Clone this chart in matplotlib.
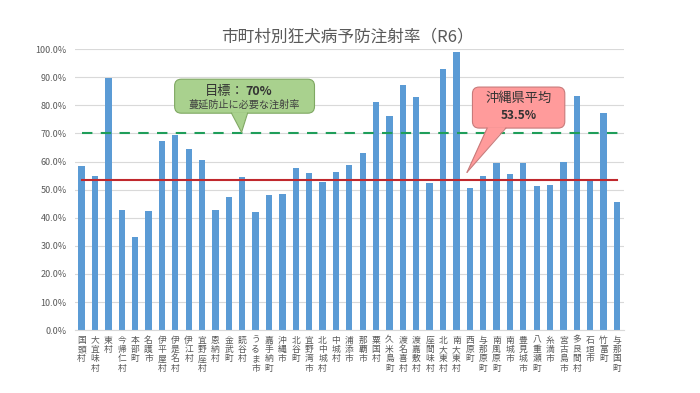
import numpy as np
import matplotlib
matplotlib.use("Agg")
import matplotlib.pyplot as plt
from matplotlib.patches import FancyBboxPatch, Polygon
from matplotlib.ticker import PercentFormatter, MultipleLocator

plt.rcParams['font.family'] = ['Noto Sans CJK JP', 'DejaVu Sans']

# 市町村名と注射率(%)
towns = ["国頭村", "大宜味村", "東村", "今帰仁村", "本部町", "名護市", "伊平屋村", "伊是名村",
         "伊江村", "宜野座村", "恩納村", "金武町", "読谷村", "うるま市", "嘉手納町", "沖縄市",
         "北谷町", "宜野湾市", "北中城村", "中城村", "浦添市", "那覇市", "粟国村", "久米島町",
         "渡名喜村", "渡嘉敷村", "座間味村", "北大東村", "南大東村", "西原町", "与那原町",
         "南風原町", "南城市", "豊見城市", "八重瀬町", "糸満市", "宮古島市", "多良間村",
         "石垣市", "竹富町", "与那国町"]
rates = [58.4, 55.0, 89.9, 42.8, 33.1, 42.4, 67.2, 69.5,
         64.5, 60.7, 42.8, 47.3, 54.5, 41.9, 48.0, 48.5,
         57.8, 55.8, 52.7, 56.2, 58.7, 62.9, 81.1, 76.2,
         87.4, 82.8, 52.3, 92.8, 98.9, 50.6, 54.9,
         59.4, 55.5, 59.6, 51.4, 51.8, 60.0, 83.4,
         52.9, 77.3, 45.5]
target = 70.0
average = 53.5

gray = "#595959"

fig = plt.figure(figsize=(7, 3.93), dpi=100)
ax = fig.add_axes([0.107, 0.160, 0.784, 0.715])

x = np.arange(len(towns))
ax.bar(x, rates, width=0.47, color="#5b9bd5", zorder=2)

ax.set_xlim(-0.5, len(towns) - 0.5)
ax.set_ylim(0, 100)
ax.yaxis.set_major_locator(MultipleLocator(10))
ax.yaxis.set_major_formatter(PercentFormatter(100, decimals=1))
ax.grid(axis='y', color="#d9d9d9", linewidth=0.8, zorder=0)
ax.set_axisbelow(True)
for s in ["top", "right", "left"]:
    ax.spines[s].set_visible(False)
ax.spines["bottom"].set_color("#d9d9d9")
ax.tick_params(axis='both', length=0, colors=gray, labelsize=6.5)
ax.tick_params(axis='y', pad=6)

ax.set_xticks(x)
ax.set_xticklabels(["\n".join(t) for t in towns], fontsize=6.3, color=gray,
                   linespacing=1.05, va='top')
ax.tick_params(axis='x', pad=4)

# 目標線と平均線
ax.plot([0, len(towns) - 0.6], [target, target], color="#1f9e5a", linestyle=(0, (5, 4)),
        linewidth=1.5, zorder=3)
ax.plot([0, len(towns) - 1], [average, average], color="#c0282d", linewidth=1.5, zorder=3)

fig.text(0.497, 0.905, "市町村別狂犬病予防注射率（R6）", ha='center', va='center',
         fontsize=12, color=gray)

# 吹き出し
asp = 13.375 / 2.81


def callout(x0, x1, y0, y1, base, tip, face, edge):
    box = FancyBboxPatch((x0, y0), x1 - x0, y1 - y0,
                         boxstyle="round,pad=0,rounding_size=0.5",
                         mutation_aspect=asp, facecolor=face, edgecolor=edge,
                         linewidth=0.8, zorder=5, clip_on=False)
    ax.add_patch(box)
    poly = Polygon([(base[0], y0 + 0.3), (base[1], y0 + 0.3), tip], closed=True,
                   facecolor=face, edgecolor='none', zorder=6, clip_on=False)
    ax.add_patch(poly)
    ax.plot([base[0], tip[0]], [y0, tip[1]], color=edge, linewidth=0.8, zorder=7,
            clip_on=False)
    ax.plot([base[1], tip[0]], [y0, tip[1]], color=edge, linewidth=0.8, zorder=7,
            clip_on=False)


callout(6.95, 17.4, 77.2, 89.3, (11.2, 12.4), (11.95, 70.4), "#a9d18e", "#7fa862")
callout(29.2, 36.1, 71.9, 86.5, (30.3, 31.7), (28.8, 56.2), "#ff9b9b", "#c87a7a")

ax.text(12.2, 85.0, "目標：", ha='right', va='center', fontsize=9.5, color="#333333", zorder=8)
ax.text(12.2, 85.0, "70%", ha='left', va='center', fontsize=9, fontweight='bold',
        color="#333333", zorder=8)
ax.text(12.15, 80.2, "蔓延防止に必要な注射率", ha='center', va='center', fontsize=7.3,
        color="#404040", zorder=8)
ax.text(32.65, 82.3, "沖縄県平均", ha='center', va='center', fontsize=9.5,
        color="#333333", zorder=8)
ax.text(32.65, 76.3, "53.5%", ha='center', va='center', fontsize=8.5, fontweight='bold',
        color="#333333", zorder=8)

fig.savefig("out.png", dpi=100)
